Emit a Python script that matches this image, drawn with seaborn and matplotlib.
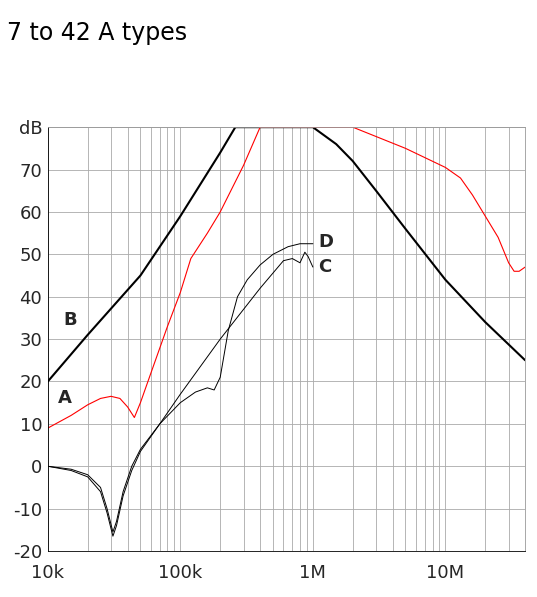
import matplotlib
matplotlib.use("Agg")
import matplotlib.pyplot as plt
import seaborn as sns
import numpy as np
import pandas as pd

sns.set_theme(style="white")
plt.rcParams['font.family'] = ['DejaVu Sans']

b_f = [1e4, 2e4, 5e4, 1e5, 2e5, 2.6e5, 1e6, 1.5e6, 2e6, 3e6, 5e6, 1e7, 2e7, 4e7]
b_db = [20, 31, 45, 59, 74, 80, 80, 76, 72, 65, 56, 44, 34, 25]
a_f = [1e4, 1.5e4, 2e4, 2.5e4, 3e4, 3.5e4, 4e4, 4.5e4, 5e4, 6e4, 8e4, 1e5, 1.2e5, 1.6e5, 2e5, 3e5, 4e5, 2e6, 5e6, 1e7, 1.3e7, 1.6e7, 2e7, 2.5e7, 3e7, 3.3e7, 3.6e7, 4e7]
a_db = [9, 12, 14.5, 16, 16.5, 16, 14, 11.5, 15, 22, 33, 41, 49, 55, 60, 71, 80, 80, 75, 70.5, 68, 64, 59, 54, 48, 46, 46, 47]
d_f = [1e4, 1.5e4, 2e4, 2.5e4, 2.8e4, 3.1e4, 3.3e4, 3.7e4, 4.3e4, 5e4, 7e4, 1e5, 1.3e5, 1.6e5, 1.8e5, 2e5, 2.3e5, 2.7e5, 3.2e5, 4e5, 5e5, 6.5e5, 8e5, 1e6]
d_db = [0, -0.7, -2, -5, -10, -15.5, -13, -6, 0, 4, 10, 15, 17.5, 18.5, 18, 21, 32, 40, 44, 47.5, 50, 51.8, 52.5, 52.5]
c_f = [1e4, 1.5e4, 2e4, 2.5e4, 2.8e4, 3.1e4, 3.3e4, 3.7e4, 4.3e4, 5e4, 7e4, 1e5, 2e5, 4e5, 6e5, 7e5, 8e5, 8.7e5, 9.2e5, 1e6]
c_db = [0, -1, -2.5, -6, -11, -16.5, -14, -7, -1, 3.5, 10, 17, 30, 42, 48.5, 49, 48, 50.5, 49.5, 47]

fig = plt.figure(figsize=(5.37, 5.97), dpi=100)
ax = fig.add_axes([0.089, 0.077, 0.889, 0.71])
sns.lineplot(x=b_f, y=b_db, ax=ax, color="black", lw=1.5)
sns.lineplot(x=a_f, y=a_db, ax=ax, color="red", lw=0.8)
sns.lineplot(x=d_f, y=d_db, ax=ax, color="black", lw=0.7)
sns.lineplot(x=c_f, y=c_db, ax=ax, color="black", lw=0.7)
ax.set_xscale("log")
ax.set_xlim(1e4, 4e7)
ax.set_ylim(-20, 80)
ax.set_yticks(range(-20, 81, 10))
ax.set_yticklabels([str(v) for v in range(-20, 80, 10)] + ["dB"], fontsize=13)
ax.set_xticks([1e4, 1e5, 1e6, 1e7])
ax.set_xticklabels(["10k", "100k", "1M", "10M"], fontsize=13)
ax.xaxis.set_minor_locator(matplotlib.ticker.LogLocator(base=10, subs=np.arange(2, 10)))
ax.grid(True, which="both", axis="x", color="#aaaaaa", lw=0.6)
ax.grid(True, which="major", axis="y", color="#aaaaaa", lw=0.6)
ax.tick_params(axis="y", which="both", length=0, pad=4)
ax.tick_params(axis="x", which="both", length=0, pad=9)
for s in ax.spines.values():
    s.set_color("#999999"); s.set_linewidth(0.6)
ax.spines["left"].set_color("black")
ax.spines["bottom"].set_color("black")
for t, x, y in [("B", 1.3e4, 34.5), ("A", 1.2e4, 16), ("D", 1.1e6, 53), ("C", 1.1e6, 47)]:
    ax.text(x, y, t, fontsize=13, fontweight="bold", va="center")
fig.text(0.013, 0.945, "7 to 42 A types", fontsize=17, va="center", color="black")
fig.savefig("out.png", dpi=100)
